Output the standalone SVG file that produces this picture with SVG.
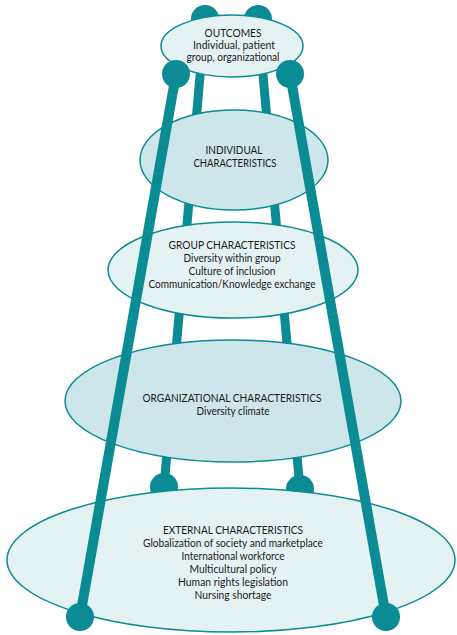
<svg xmlns="http://www.w3.org/2000/svg" width="457" height="635" viewBox="0 0 457 635">
<style>
.leg{stroke:#0b8b93;stroke-linecap:butt;fill:none}
.outer{stroke-width:10}
.inner{stroke-width:9}
.ball{fill:#0b8b93}
.ell{stroke:#0b8b93;stroke-width:1.5}
.light{fill:#e4f2f3}
.dark{fill:#cde6e9}
text{font-family:"Lato","Liberation Sans",sans-serif;font-size:11.5px;fill:#1a1a1a;text-anchor:middle}
</style>
<rect width="457" height="635" fill="#ffffff"/>
<g id="legs-back">
<line class="leg inner" x1="205" y1="19" x2="164" y2="487"/>
<line class="leg inner" x1="258" y1="19" x2="300" y2="489"/>
<circle class="ball" cx="205" cy="19" r="14"/>
<circle class="ball" cx="258" cy="19" r="14"/>
<circle class="ball" cx="164" cy="487" r="14"/>
<circle class="ball" cx="300" cy="489" r="14"/>
</g>
<g id="outcomes">
<ellipse class="ell light" cx="232" cy="46" rx="71" ry="31"/>
<text x="233" y="37" textLength="57" lengthAdjust="spacingAndGlyphs">OUTCOMES</text>
<text x="234" y="48.5" textLength="82" lengthAdjust="spacingAndGlyphs">Individual, patient</text>
<text x="233" y="60.5" textLength="93" lengthAdjust="spacingAndGlyphs">group, organizational</text>
</g>
<g id="individual">
<ellipse class="ell dark" cx="234" cy="160" rx="94" ry="50"/>
<text x="234" y="153.5" textLength="57" lengthAdjust="spacingAndGlyphs">INDIVIDUAL</text>
<text x="235" y="166.5" textLength="83" lengthAdjust="spacingAndGlyphs">CHARACTERISTICS</text>
</g>
<g id="group">
<ellipse class="ell light" cx="233" cy="270" rx="125" ry="48"/>
<text x="232" y="248.5" textLength="127" lengthAdjust="spacingAndGlyphs">GROUP CHARACTERISTICS</text>
<text x="232" y="261.5" textLength="97" lengthAdjust="spacingAndGlyphs">Diversity within group</text>
<text x="232" y="274.5" textLength="87" lengthAdjust="spacingAndGlyphs">Culture of inclusion</text>
<text x="232" y="287.5" textLength="167" lengthAdjust="spacingAndGlyphs">Communication/Knowledge exchange</text>
</g>
<g id="organizational">
<ellipse class="ell dark" cx="233" cy="401" rx="168" ry="61"/>
<text x="232" y="401.5" textLength="179" lengthAdjust="spacingAndGlyphs">ORGANIZATIONAL CHARACTERISTICS</text>
<text x="233" y="414.5" textLength="73" lengthAdjust="spacingAndGlyphs">Diversity climate</text>
</g>
<g id="external">
<ellipse class="ell light" cx="231" cy="560" rx="224" ry="72"/>
<text x="233" y="533.5" textLength="140" lengthAdjust="spacingAndGlyphs">EXTERNAL CHARACTERISTICS</text>
<text x="233" y="546.5" textLength="180" lengthAdjust="spacingAndGlyphs">Globalization of society and marketplace</text>
<text x="233" y="559.5" textLength="103" lengthAdjust="spacingAndGlyphs">International workforce</text>
<text x="233" y="572.5" textLength="87" lengthAdjust="spacingAndGlyphs">Multicultural policy</text>
<text x="233" y="585.5" textLength="110" lengthAdjust="spacingAndGlyphs">Human rights legislation</text>
<text x="233" y="598.5" textLength="77" lengthAdjust="spacingAndGlyphs">Nursing shortage</text>
</g>
<g id="legs-front">
<line class="leg outer" x1="176" y1="74" x2="80" y2="617"/>
<line class="leg outer" x1="290" y1="74" x2="386" y2="617"/>
<circle class="ball" cx="176" cy="74" r="14"/>
<circle class="ball" cx="290" cy="74" r="14"/>
<circle class="ball" cx="80" cy="617" r="14"/>
<circle class="ball" cx="386" cy="617" r="14"/>
</g>
</svg>
